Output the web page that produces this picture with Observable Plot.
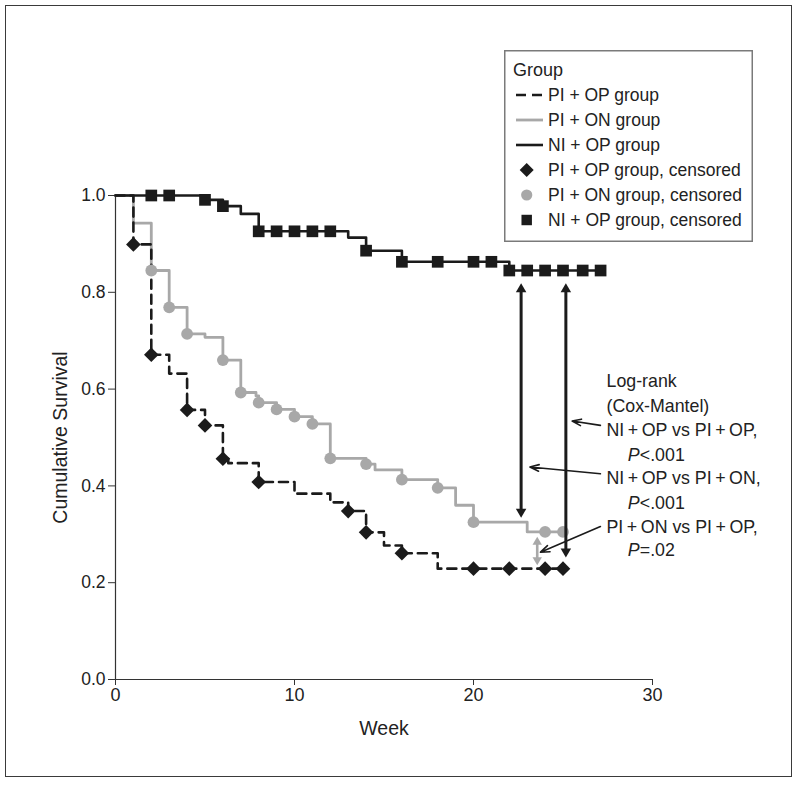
<!DOCTYPE html>
<html>
<head>
<meta charset="utf-8">
<script src="https://cdn.jsdelivr.net/npm/d3@7"></script>
<script src="https://cdn.jsdelivr.net/npm/@observablehq/plot@0.6"></script>
<style>
  html, body { margin: 0; padding: 0; background: #fff; }
  #wrap { position: relative; width: 800px; height: 785px; overflow: hidden; font-family: 'Liberation Sans', Arial, sans-serif; }
  #frame { position: absolute; left: 5px; top: 5px; width: 787px; height: 772px; border: 1.5px solid #3a3a3a; box-sizing: border-box; }
  #chart { position: absolute; left: 0; top: 0; }
  #legend { position: absolute; left: 504px; top: 50px; }
</style>
</head>
<body>
<div id="wrap">
  <div id="frame"></div>
  <div id="chart"></div>
  <div id="legend"></div>
</div>
<script>
// ---------- data ----------
// PI+OP group (dashed, diamonds)
const piopStepWeek = [0, 1, 2, 3, 4, 5, 6, 6.3, 8, 10, 12, 13, 14, 15, 16, 18, 25];
const piopStepSurv = [1, 0.899, 0.671, 0.632, 0.557, 0.525, 0.456, 0.447, 0.408, 0.384, 0.366, 0.348, 0.304, 0.277, 0.261, 0.229, 0.229];
const piopCensWeek = [1, 2, 4, 5, 6, 8, 13, 14, 16, 20, 22, 24, 25];
const piopCensSurv = [0.899, 0.671, 0.557, 0.525, 0.456, 0.408, 0.348, 0.304, 0.261, 0.229, 0.229, 0.229, 0.229];

// PI+ON group (gray, circles)
const pionStepWeek = [0, 1, 2, 3, 4, 5, 6, 7, 7.85, 8, 9, 10, 11, 12, 14, 14.5, 16, 18, 19, 20, 23, 25];
const pionStepSurv = [1, 0.943, 0.845, 0.769, 0.714, 0.707, 0.660, 0.593, 0.586, 0.572, 0.558, 0.543, 0.528, 0.457, 0.445, 0.433, 0.413, 0.396, 0.360, 0.325, 0.305, 0.305];
const pionCensWeek = [2, 3, 4, 6, 7, 8, 9, 10, 11, 12, 14, 16, 18, 20, 24, 25];
const pionCensSurv = [0.845, 0.769, 0.714, 0.660, 0.593, 0.572, 0.558, 0.543, 0.528, 0.457, 0.445, 0.413, 0.396, 0.325, 0.305, 0.305];

// NI+OP group (solid black, squares)
const niopStepWeek = [0, 5, 6, 7, 8, 13, 14, 16, 22, 27.1];
const niopStepSurv = [1, 0.991, 0.978, 0.962, 0.926, 0.913, 0.886, 0.863, 0.845, 0.845];
const niopCensWeek = [2, 3, 5, 6, 8, 9, 10, 11, 12, 14, 16, 18, 20, 21, 22, 23, 24, 25, 26.1, 27.1];
const niopCensSurv = [1, 1, 0.991, 0.978, 0.926, 0.926, 0.926, 0.926, 0.926, 0.886, 0.863, 0.863, 0.863, 0.863, 0.845, 0.845, 0.845, 0.845, 0.845, 0.845];

// axes
const xTicks = [0, 10, 20, 30];
const yTicks = [0, 0.2, 0.4, 0.6, 0.8, 1.0];
const xLabel = "Week";
const yLabel = "Cumulative Survival";

// comparison arrows (week, survival from, survival to)
const cmpWeek = [22.66, 25.16, 23.56];
const cmpFrom = [0.819, 0.819, 0.295];
const cmpTo   = [0.334, 0.252, 0.236];
const cmpGray = [false, false, true];

// annotation text (thin spaces around "+")
const noteText = ["Log-rank", "(Cox-Mantel)", "NI\u2009+\u2009OP vs PI\u2009+\u2009OP,", "NI\u2009+\u2009OP vs PI\u2009+\u2009ON,", "PI\u2009+\u2009ON vs PI\u2009+\u2009OP,"];
const noteSurv = [0.616, 0.564, 0.514, 0.415, 0.315];
const noteWeek = 27.43;
const pText = ["<.001", "<.001", "=.02"];
const pSurv = [0.464, 0.364, 0.267];
const pWeek = 28.62;

// leader arrows from text to comparison arrows
const leadFromWeek = [27.09, 27.09, 27.09];
const leadFromSurv = [0.525, 0.425, 0.316];
const leadToWeek = [25.51, 23.15, 23.74];
const leadToSurv = [0.534, 0.439, 0.263];

// legend
const legendTitle = "Group";
const legendLabels = ["PI + OP group", "PI + ON group", "NI + OP group",
  "PI + OP group, censored", "PI + ON group, censored", "NI + OP group, censored"];

// ---------- build tables ----------
const zip = (xs, ys) => xs.map((x, i) => ({week: x, surv: ys[i]}));
const piopLine = zip(piopStepWeek, piopStepSurv);
const pionLine = zip(pionStepWeek, pionStepSurv);
const niopLine = zip(niopStepWeek, niopStepSurv);
const piopCens = zip(piopCensWeek, piopCensSurv);
const pionCens = zip(pionCensWeek, pionCensSurv);
const niopCens = zip(niopCensWeek, niopCensSurv);
const cmp = cmpWeek.map((w, i) => ({week: w, from: cmpFrom[i], to: cmpTo[i], gray: cmpGray[i]}));
const cmpBlack = cmp.filter(d => !d.gray);
const cmpG = cmp.filter(d => d.gray);
const notes = noteText.map((t, i) => ({t, y: noteSurv[i]}));
const ps = pText.map((t, i) => ({t, y: pSurv[i]}));
const leads = leadFromWeek.map((w, i) => ({x1: w, y1: leadFromSurv[i], x2: leadToWeek[i], y2: leadToSurv[i]}));

const BLACK = "#1b1b1b";
const GRAY = "#a8a8a8";
const FONT = "'Liberation Sans', Arial, sans-serif";

const headMarks = (data, color, r, off) => [
  Plot.dot(data, {x: "week", y: "from", symbol: "triangle", r, fill: color, stroke: "none", dy: off}),
  Plot.dot(data, {x: "week", y: "to", symbol: "triangle", r, fill: color, stroke: "none", rotate: 180, dy: -off})
];

const chart = Plot.plot({
  width: 800,
  height: 785,
  marginLeft: 115,
  marginRight: 148,
  marginTop: 195,
  marginBottom: 106,
  x: {domain: [0, 30]},
  y: {domain: [0, 1]},
  style: {fontFamily: FONT, fontSize: "17px", color: "#222", background: "transparent", overflow: "visible"},
  marks: [
    Plot.ruleY([0], {stroke: "#333", strokeWidth: 1.2}),
    Plot.ruleX([0], {stroke: "#333", strokeWidth: 1.2}),
    Plot.axisX({ticks: xTicks, tickSize: 6, tickPadding: 3, label: null, stroke: "#333", fill: "#222", fontSize: 18}),
    Plot.axisY({ticks: yTicks, tickFormat: d => d.toFixed(1), tickSize: 7, tickPadding: 3, label: null, stroke: "#333", fill: "#222", fontSize: 17.5}),
    Plot.text([yLabel], {frameAnchor: "left", text: d => d, rotate: -90, dx: -55, textAnchor: "middle", lineAnchor: "middle", fontSize: 19.5, fill: "#222"}),
    Plot.text([xLabel], {frameAnchor: "bottom", text: d => d, dy: 49, textAnchor: "middle", lineAnchor: "middle", fontSize: 19.5, fill: "#222"}),

    // survival curves
    Plot.line(pionLine, {x: "week", y: "surv", curve: "step-after", stroke: GRAY, strokeWidth: 2.8}),
    Plot.line(piopLine, {x: "week", y: "surv", curve: "step-after", stroke: BLACK, strokeWidth: 2.6, strokeDasharray: "9,6"}),
    Plot.line(niopLine, {x: "week", y: "surv", curve: "step-after", stroke: BLACK, strokeWidth: 2.6}),

    // censored marks
    Plot.dot(pionCens, {x: "week", y: "surv", symbol: "circle", r: 5.9, fill: GRAY, stroke: "none"}),
    Plot.dot(piopCens, {x: "week", y: "surv", symbol: "diamond2", r: 6.6, fill: BLACK, stroke: "none"}),
    Plot.dot(niopCens, {x: "week", y: "surv", symbol: "square", r: 6.6, fill: BLACK, stroke: "none"}),

    // comparison double arrows
    Plot.arrow(cmpBlack, {x1: "week", y1: "from", x2: "week", y2: "to", stroke: BLACK, strokeWidth: 3, headLength: 0, insetStart: 6, insetEnd: 6}),
    ...headMarks(cmpBlack, BLACK, 3.9, 6.1),
    Plot.arrow(cmpG, {x1: "week", y1: "from", x2: "week", y2: "to", stroke: GRAY, strokeWidth: 2.6, headLength: 0, insetStart: 5, insetEnd: 5}),
    ...headMarks(cmpG, GRAY, 3.5, 5.4),

    // leader arrows
    Plot.arrow(leads, {x1: "x1", y1: "y1", x2: "x2", y2: "y2", stroke: BLACK, strokeWidth: 1.6, headLength: 9, headAngle: 40}),

    // annotation text
    Plot.text(notes, {x: () => noteWeek, y: "y", text: "t", textAnchor: "start", fontSize: 17.8, fill: "#222"}),
    Plot.text(ps, {x: () => pWeek, y: "y", text: () => "P", textAnchor: "start", fontSize: 17.8, fontStyle: "italic", fill: "#222"}),
    Plot.text(ps, {x: () => pWeek, y: "y", text: "t", textAnchor: "start", dx: 12, fontSize: 17.8, fill: "#222"})
  ]
});
document.getElementById("chart").appendChild(chart);

// ---------- legend ----------
const lw = 249, lh = 192;
const lg = d3.select("#legend").append("svg").attr("width", lw).attr("height", lh)
  .style("font-family", FONT);
lg.append("rect").attr("x", 0.75).attr("y", 0.75).attr("width", lw - 1.5).attr("height", lh - 1.5)
  .attr("fill", "#fff").attr("stroke", "#7a7a7a").attr("stroke-width", 1.5);
lg.append("text").attr("x", 9).attr("y", 20).attr("dy", "0.35em").attr("font-size", 18).attr("fill", "#222").text(legendTitle);
const rowY = i => 45 + i * 25;
const lineStyles = [
  {stroke: BLACK, dash: "10,6", w: 2.6},
  {stroke: GRAY, dash: null, w: 2.8},
  {stroke: BLACK, dash: null, w: 2.6}
];
const markerStyles = [
  {sym: d3.symbolDiamond2, size: Math.PI * 6.3 * 6.3, fill: BLACK},
  {sym: d3.symbolCircle, size: Math.PI * 5.6 * 5.6, fill: GRAY},
  {sym: d3.symbolSquare, size: Math.PI * 5.9 * 5.9, fill: BLACK}
];
legendLabels.forEach((lab, i) => {
  const y = rowY(i);
  if (i < 3) {
    const s = lineStyles[i];
    const ln = lg.append("line").attr("x1", 12).attr("x2", 39).attr("y1", y).attr("y2", y)
      .attr("stroke", s.stroke).attr("stroke-width", s.w);
    if (s.dash) ln.attr("stroke-dasharray", s.dash);
  } else {
    const m = markerStyles[i - 3];
    lg.append("path").attr("d", d3.symbol(m.sym, m.size)()).attr("transform", `translate(22.7,${y})`).attr("fill", m.fill);
  }
  lg.append("text").attr("x", 44).attr("y", y).attr("dy", "0.35em").attr("font-size", 17.5).attr("fill", "#222").text(lab);
});
</script>
</body>
</html>
